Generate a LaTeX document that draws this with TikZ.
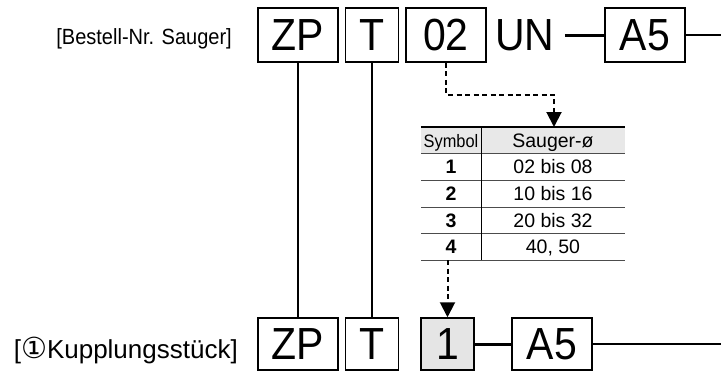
\documentclass[tikz,border=0pt]{standalone}
\usepackage{fontspec}
\setmainfont{Liberation Sans}
\newfontfamily\narrowfont{Liberation Sans}[FakeStretch=0.91]
\newfontfamily\symfont{DejaVu Sans}
\usetikzlibrary{arrows.meta, positioning, calc}

\begin{document}
\begin{tikzpicture}[
    x=1pt, y=-1pt,
    codebox/.style = {rectangle, draw, line width=1.5pt, minimum height=54pt, inner sep=0pt, font=\narrowfont\fontsize{45}{45}\selectfont},
    selbox/.style = {codebox, fill=gray!20},
    tabtext/.style = {inner sep=0pt, anchor=base, font=\fontsize{19.5}{19.5}\selectfont},
    link/.style = {line width=1.5pt},
    boldlink/.style = {line width=3pt},
    dasharrow/.style = {line width=2pt, dash pattern=on 5pt off 3.5pt, -{Triangle[length=15pt, width=15pt]}},
    rowline/.style = {draw=black!70, line width=0.9pt}
]
\useasboundingbox (0,0) rectangle (721,372);

% Labels
\node (lblOrder) [anchor=base east, inner sep=0pt, font=\narrowfont\fontsize{22}{22}\selectfont] at (232,45) {[Bestell-Nr. Sauger]};
\node (lblCoupling) [anchor=base east, inner sep=0pt, font=\fontsize{26}{26}\selectfont] at (238,358) {[{\symfont\fontsize{29}{29}\selectfont ①}Kupplungsstück]};

% Order number (top row)
\node (zpA) [codebox, minimum width=80pt] at (298,35) {ZP};
\node (tA) [codebox, minimum width=53pt] at (372,35) {T};
\node (n02) [codebox, minimum width=80pt] at (446,35) {02};
\node (un) [inner sep=0pt, inner xsep=10pt, font=\narrowfont\fontsize{45}{45}\selectfont] at (525,35) {UN};
\node (a5A) [codebox, minimum width=80pt] at (645,35) {A5};
\coordinate (endA) at (721,35);

% Coupling piece (bottom row)
\node (zpB) [codebox, minimum width=80pt, minimum height=52pt] at (298,344) {ZP};
\node (tB) [codebox, minimum width=53pt, minimum height=52pt] at (372,344) {T};
\node (n1) [selbox, minimum width=53pt, minimum height=52pt] at (447.5,344) {1};
\node (a5B) [codebox, minimum width=80pt, minimum height=52pt] at (552,344) {A5};
\coordinate (endB) at (721,344);

% Connectors
\draw [boldlink] (un.east) -- (a5A.west);
\draw [link] (a5A.east) -- (endA);
\draw [boldlink] (n1.east) -- (a5B.west);
\draw [link] (a5B.east) -- (endB);
\draw [link] (zpA.south) -- (zpB.north);
\draw [link] (tA.south) -- (tB.north);

% Table
\node (tbl) [rectangle, minimum width=204pt, minimum height=133pt, inner sep=0pt] at (523,193.5) {};
\fill [gray!18] (tbl.north west) rectangle (625,153);
\draw [line width=1.6pt] (tbl.north west) -- (tbl.north east);
\foreach \y in {153,180,207,233,260}
    \draw [rowline] (421,\y) -- (625,\y);
\draw [line width=0.9pt] (481,127) -- (481,260);
\node (hSym) [tabtext, font=\narrowfont\fontsize{18}{18}\selectfont] at (451,147) {Symbol};
\node (hDia) [tabtext] at (553,147) {Sauger-ø};
\foreach \s/\d/\y in {1/02 bis 08/173.5, 2/10 bis 16/200.5, 3/20 bis 32/227, 4/{40, 50}/253.5} {
    \node (sym\s) [tabtext, font=\fontsize{19.5}{19.5}\selectfont\bfseries] at (451,\y) {\s};
    \node (dia\s) [tabtext] at (553,\y) {\d};
}

% Dashed arrows
\coordinate (tipA) at (554,127);
\draw [dasharrow] (n02.south) -- ++(0,32) -| (tipA);
\draw [dasharrow] (tbl.south -| n1.north) -- (n1.north);

\end{tikzpicture}
\end{document}
